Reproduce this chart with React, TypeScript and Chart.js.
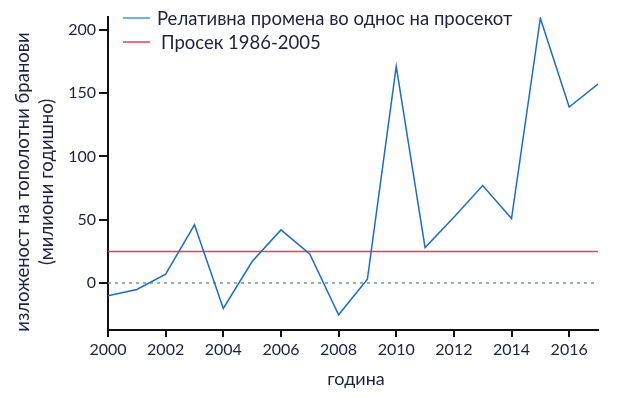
import React, { useEffect, useRef } from "react";
import { Chart, registerables } from "chart.js";

Chart.register(...registerables);

const years = [2000, 2001, 2002, 2003, 2004, 2005, 2006, 2007, 2008, 2009, 2010, 2011, 2012, 2013, 2014, 2015, 2016, 2017];
const relChange = [-10, -5, 7, 46, -20, 17, 42, 23, -25, 3, 171, 28, 52, 77, 51, 209, 139, 157];
const avgValue = 25;
const xTicks = [2000, 2002, 2004, 2006, 2008, 2010, 2012, 2014, 2016];
const yTicks = [0, 50, 100, 150, 200];
const legendLabels = ["Релативна промена во однос на просекот", "Просек 1986-2005"];
const yTitle = ["изложеност на тополотни бранови", "(милиони годишно)"];
const xTitle = "година";

const FONT = "Lato, 'Open Sans', sans-serif";
const TEXT = "#1d2142";
const BLUE = "#1f6cbf";
const LEGEND_BLUE = "#3b9be0";
const RED = "#ea3a5f";

const overlay = {
  id: "overlay",
  afterDraw(chart: any) {
    const ctx = chart.ctx;
    const area = chart.chartArea;
    ctx.save();
    // legend
    const items = [
      { color: LEGEND_BLUE, text: legendLabels[0], y: 18, tx: 157 },
      { color: RED, text: legendLabels[1], y: 42, tx: 161 },
    ];
    ctx.font = `18.5px ${FONT}`;
    ctx.textBaseline = "middle";
    ctx.textAlign = "left";
    for (const it of items) {
      ctx.strokeStyle = it.color;
      ctx.lineWidth = 1.5;
      ctx.beginPath();
      ctx.moveTo(area.left + 15, it.y);
      ctx.lineTo(area.left + 42, it.y);
      ctx.stroke();
      ctx.fillStyle = TEXT;
      ctx.fillText(it.text, it.tx, it.y + 1);
    }
    // y title
    ctx.save();
    ctx.translate(0, 182);
    ctx.rotate(-Math.PI / 2);
    ctx.textAlign = "center";
    ctx.fillStyle = TEXT;
    ctx.font = `18.5px ${FONT}`;
    ctx.fillText(yTitle[0], 0, 23);
    ctx.fillText(yTitle[1], 0, 47);
    ctx.restore();
    // x title
    ctx.textAlign = "center";
    ctx.fillStyle = TEXT;
    ctx.font = `18px ${FONT}`;
    ctx.fillText(xTitle, 356, 379);
    ctx.restore();
  },
};

export default function App() {
  const ref = useRef<HTMLCanvasElement>(null);
  useEffect(() => {
    if (!ref.current) return;
    const chart = new Chart(ref.current, {
      type: "line",
      data: {
        datasets: [
          {
            data: years.map((y, i) => ({ x: y, y: relChange[i] })),
            borderColor: BLUE,
            borderWidth: 1.5,
            pointRadius: 0,
            tension: 0,
            order: 1,
          },
          {
            data: [
              { x: years[0], y: avgValue },
              { x: years[years.length - 1], y: avgValue },
            ],
            borderColor: RED,
            borderWidth: 1.5,
            pointRadius: 0,
            order: 2,
          },
          {
            data: [
              { x: years[0], y: 0 },
              { x: years[years.length - 1], y: 0 },
            ],
            borderColor: "#6f9c93",
            borderWidth: 1.5,
            borderDash: [3, 4],
            pointRadius: 0,
            order: 3,
          },
        ],
      },
      options: {
        animation: false,
        responsive: true,
        maintainAspectRatio: false,
        layout: { padding: { top: 17, right: 22, left: 0, bottom: 0 } },
        plugins: { legend: { display: false }, tooltip: { enabled: false } },
        scales: {
          x: {
            type: "linear",
            min: 2000,
            max: 2017,
            afterBuildTicks: (s: any) => {
              s.ticks = xTicks.map((v) => ({ value: v }));
            },
            afterFit: (s: any) => {
              s.height = 68;
            },
            border: { display: true, color: "#111", width: 2 },
            grid: { display: true, drawOnChartArea: false, drawTicks: true, tickLength: 7, color: "#111", lineWidth: 2 },
            ticks: {
              color: TEXT,
              font: { family: FONT, size: 16 },
              padding: 3,
              maxRotation: 0,
              callback: (v: any) => String(v),
            },
          },
          y: {
            min: -37,
            max: 210,
            afterBuildTicks: (s: any) => {
              s.ticks = yTicks.map((v) => ({ value: v }));
            },
            afterFit: (s: any) => {
              s.width = 108;
            },
            border: { display: true, color: "#111", width: 2 },
            grid: { display: true, drawOnChartArea: false, drawTicks: true, tickLength: 9, color: "#111", lineWidth: 2 },
            ticks: {
              color: TEXT,
              font: { family: FONT, size: 16 },
              padding: 3,
            },
          },
        },
      },
      plugins: [overlay],
    });
    return () => chart.destroy();
  }, []);
  return (
    <div style={{ position: "absolute", left: 0, top: 0, width: 620, height: 398, background: "#fff" }}>
      <canvas ref={ref} />
    </div>
  );
}
